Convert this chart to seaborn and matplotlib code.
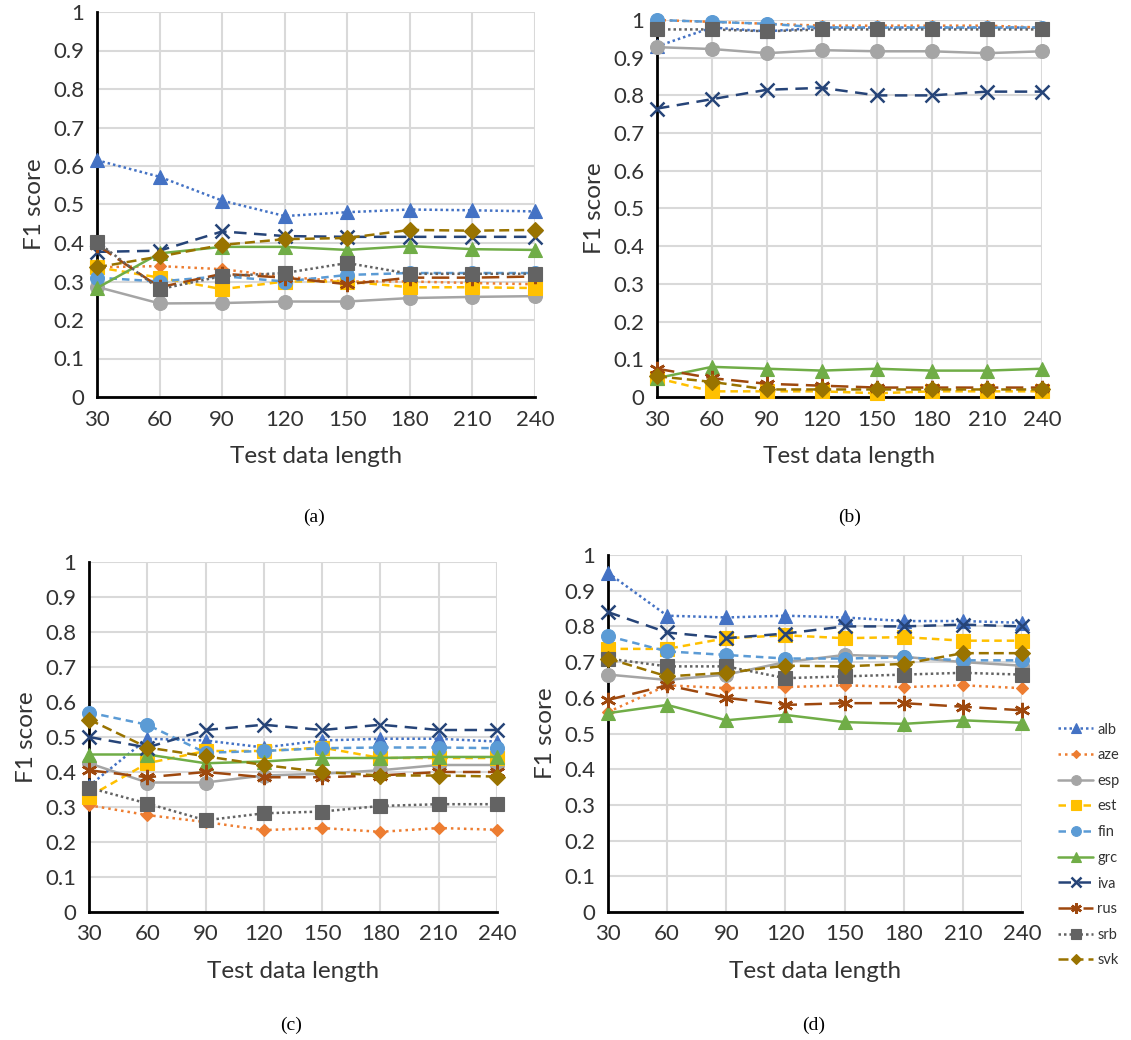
import matplotlib
matplotlib.use("Agg")
import matplotlib.pyplot as plt
import seaborn as sns
from matplotlib.ticker import FuncFormatter, MultipleLocator

sns.set_theme(style="white")
plt.rcParams["font.family"] = ["Lato", "DejaVu Sans"]

# Test data lengths (x axis)
lengths = [30, 60, 90, 120, 150, 180, 210, 240]
languages = ["alb", "aze", "esp", "est", "fin", "grc", "iva", "rus", "srb", "svk"]

# F1 scores, panel (a)
f1_a = {
    "alb": [0.615, 0.572, 0.51, 0.47, 0.48, 0.487, 0.485, 0.482],
    "aze": [0.337, 0.34, 0.332, 0.312, 0.30, 0.30, 0.296, 0.293],
    "esp": [0.286, 0.243, 0.244, 0.248, 0.248, 0.257, 0.26, 0.262],
    "est": [0.337, 0.31, 0.28, 0.30, 0.30, 0.285, 0.285, 0.283],
    "fin": [0.31, 0.30, 0.314, 0.30, 0.317, 0.322, 0.322, 0.322],
    "grc": [0.283, 0.373, 0.39, 0.39, 0.382, 0.392, 0.384, 0.382],
    "iva": [0.377, 0.38, 0.43, 0.418, 0.416, 0.416, 0.416, 0.416],
    "rus": [0.395, 0.285, 0.32, 0.31, 0.293, 0.31, 0.31, 0.313],
    "srb": [0.403, 0.28, 0.314, 0.322, 0.348, 0.32, 0.32, 0.32],
    "svk": [0.337, 0.365, 0.395, 0.41, 0.413, 0.434, 0.432, 0.434],
}

# F1 scores, panel (b)
f1_b = {
    "alb": [0.93, 0.98, 0.97, 0.98, 0.98, 0.98, 0.98, 0.98],
    "aze": [1.0, 0.995, 0.99, 0.985, 0.985, 0.985, 0.985, 0.98],
    "esp": [0.928, 0.923, 0.912, 0.92, 0.917, 0.917, 0.912, 0.917],
    "est": [0.05, 0.015, 0.015, 0.015, 0.01, 0.015, 0.015, 0.015],
    "fin": [1.0, 0.995, 0.99, 0.98, 0.98, 0.98, 0.98, 0.98],
    "grc": [0.05, 0.08, 0.075, 0.07, 0.075, 0.07, 0.07, 0.075],
    "iva": [0.765, 0.79, 0.815, 0.82, 0.80, 0.80, 0.81, 0.81],
    "rus": [0.075, 0.05, 0.035, 0.03, 0.025, 0.025, 0.025, 0.025],
    "srb": [0.975, 0.975, 0.97, 0.975, 0.975, 0.975, 0.975, 0.975],
    "svk": [0.055, 0.04, 0.02, 0.02, 0.02, 0.02, 0.02, 0.02],
}

# F1 scores, panel (c)
f1_c = {
    "alb": [0.36, 0.495, 0.49, 0.47, 0.49, 0.495, 0.495, 0.487],
    "aze": [0.305, 0.277, 0.257, 0.234, 0.24, 0.229, 0.24, 0.235],
    "esp": [0.425, 0.37, 0.37, 0.39, 0.395, 0.405, 0.42, 0.42],
    "est": [0.33, 0.425, 0.46, 0.46, 0.47, 0.44, 0.44, 0.44],
    "fin": [0.57, 0.535, 0.455, 0.46, 0.468, 0.47, 0.47, 0.468],
    "grc": [0.45, 0.45, 0.425, 0.43, 0.44, 0.44, 0.443, 0.443],
    "iva": [0.50, 0.47, 0.52, 0.535, 0.52, 0.535, 0.52, 0.52],
    "rus": [0.405, 0.385, 0.40, 0.385, 0.385, 0.39, 0.40, 0.40],
    "srb": [0.355, 0.31, 0.262, 0.282, 0.287, 0.303, 0.308, 0.308],
    "svk": [0.55, 0.47, 0.445, 0.42, 0.40, 0.39, 0.39, 0.387],
}

# F1 scores, panel (d)
f1_d = {
    "alb": [0.95, 0.83, 0.825, 0.83, 0.825, 0.815, 0.815, 0.81],
    "aze": [0.56, 0.635, 0.627, 0.63, 0.635, 0.63, 0.635, 0.627],
    "esp": [0.665, 0.65, 0.665, 0.70, 0.72, 0.715, 0.70, 0.69],
    "est": [0.737, 0.737, 0.767, 0.775, 0.767, 0.77, 0.76, 0.76],
    "fin": [0.773, 0.73, 0.72, 0.71, 0.71, 0.713, 0.705, 0.705],
    "grc": [0.557, 0.58, 0.537, 0.552, 0.532, 0.527, 0.537, 0.53],
    "iva": [0.84, 0.783, 0.767, 0.78, 0.80, 0.80, 0.805, 0.80],
    "rus": [0.594, 0.635, 0.60, 0.58, 0.585, 0.585, 0.575, 0.565],
    "srb": [0.71, 0.688, 0.688, 0.655, 0.66, 0.665, 0.67, 0.665],
    "svk": [0.71, 0.66, 0.67, 0.69, 0.688, 0.695, 0.725, 0.725],
}

# Line and marker styling for each language
styles = {
    "alb": dict(color="#4472C4", ls=(0, (1, 1.2)), marker="^", ms=10),
    "aze": dict(color="#ED7D31", ls=(0, (1, 1.6)), marker="D", ms=6),
    "esp": dict(color="#A5A5A5", ls="-", marker="o", ms=10),
    "est": dict(color="#FFC000", ls=(0, (3, 2)), marker="s", ms=9.5),
    "fin": dict(color="#5B9BD5", ls=(0, (3, 2)), marker="o", ms=10),
    "grc": dict(color="#70AD47", ls="-", marker="^", ms=10),
    "iva": dict(color="#264478", ls=(0, (5, 3)), marker="x", ms=10),
    "rus": dict(color="#9E480E", ls=(0, (7, 3)), marker=(6, 2, 0), ms=11),
    "srb": dict(color="#636363", ls=(0, (1, 1.2)), marker="s", ms=9.5),
    "svk": dict(color="#997300", ls=(0, (4, 2)), marker="D", ms=8),
}

W, H = 1131, 1040
fig = plt.figure(figsize=(W / 100, H / 100), dpi=100)


def px_axes(left, top, right, bottom):
    return fig.add_axes([left / W, 1 - bottom / H, (right - left) / W, (bottom - top) / H])


panels = [
    (f1_a, px_axes(97, 12, 535, 397), "(a)", 314, 517),
    (f1_b, px_axes(657, 20, 1042, 397), "(b)", 850, 517),
    (f1_c, px_axes(89, 562, 497, 912), "(c)", 291, 1025),
    (f1_d, px_axes(608, 555, 1022, 912), "(d)", 814, 1025),
]

for data, ax, tag, cx, cy in panels:
    for lang in languages:
        st = styles[lang]
        mk = st["marker"]
        sns.lineplot(
            x=lengths, y=data[lang], ax=ax, color=st["color"], linestyle=st["ls"],
            linewidth=1.8, marker=mk, markersize=st["ms"],
            markeredgecolor=st["color"], markerfacecolor=st["color"],
            markeredgewidth=1.8 if mk in ("x", (6, 2, 0)) else 0.8,
            clip_on=False, label=lang, legend=False, zorder=3,
        )
    ax.set_xlim(30, 240)
    ax.set_ylim(0, 1)
    ax.set_xticks(lengths)
    ax.yaxis.set_major_locator(MultipleLocator(0.1))
    ax.yaxis.set_major_formatter(FuncFormatter(lambda v, p: f"{v:g}"))
    ax.grid(True, color="#D9D9D9", linewidth=1.5, zorder=0)
    ax.set_axisbelow(True)
    for s in ("top", "right"):
        ax.spines[s].set_visible(False)
    for s in ("left", "bottom"):
        ax.spines[s].set_color("black")
        ax.spines[s].set_linewidth(2)
        ax.spines[s].set_zorder(2)
    ax.tick_params(axis="both", length=0, labelsize=16, colors="#333333", pad=9)
    ax.set_xlabel("Test data length", fontsize=17.5, color="#333333", labelpad=12)
    ax.set_ylabel("F1 score", fontsize=17.5, color="#333333", labelpad=6)
    fig.text(cx / W, 1 - cy / H, tag, ha="center", va="center",
             family="Liberation Serif", fontsize=14, color="black")

# Legend to the right of panel (d)
handles, labels = panels[3][1].get_legend_handles_labels()
leg = fig.legend(handles, labels, loc="center left", bbox_to_anchor=(1058 / W, 1 - 845 / H),
                 frameon=False, fontsize=10.5, handlelength=2.4, markerscale=0.7,
                 labelspacing=0.8, handletextpad=0.3, borderpad=0, borderaxespad=0)
for t in leg.get_texts():
    t.set_color("#333333")

fig.savefig("out.png", dpi=100)
